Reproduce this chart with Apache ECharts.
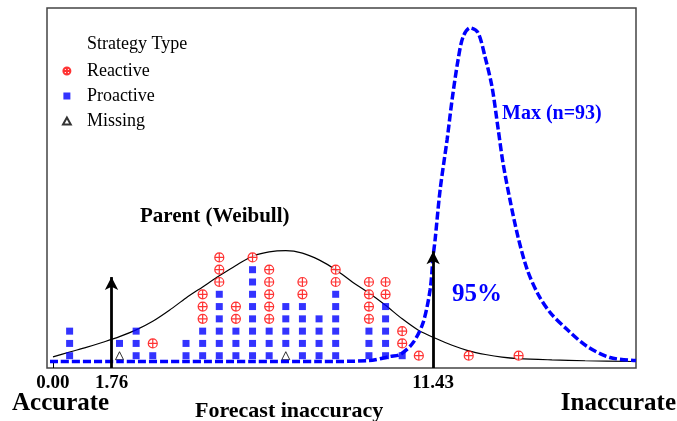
<!DOCTYPE html>
<html><head><meta charset="utf-8">
<script src="https://cdn.jsdelivr.net/npm/echarts@6/dist/echarts.min.js"></script>
<style>html,body{margin:0;padding:0;background:#fff}#c{width:677px;height:421px}</style>
</head><body><div id="c"></div>
<script>
// Dot plot bins (forecast inaccuracy) and counts per strategy type
const bins      = [0.5, 2.0, 2.5, 3.0, 4.0, 4.5, 5.0, 5.5, 6.0, 6.5, 7.0, 7.5, 8.0, 8.5, 9.5, 10.0, 10.5, 11.0, 12.5, 14.0];
const missing   = [0,   1,   0,   0,   0,   0,   0,   0,   0,   0,   1,   0,   0,   0,   0,   0,    0,    0,    0,    0];
const proactive = [3,   1,   3,   1,   2,   3,   6,   3,   8,   3,   4,   5,   4,   6,   3,   5,    1,    0,    0,    0];
const reactive  = [0,   0,   0,   1,   0,   3,   3,   2,   1,   5,   0,   2,   0,   2,   4,   2,    2,    1,    1,    1];

// Parent (Weibull) curve
const weibullX = [0, 0.5, 1, 1.5, 2, 2.5, 3, 3.5, 4, 4.5, 5, 5.5, 6, 6.5, 7, 7.5, 8, 8.5, 9, 9.5, 10, 10.5, 11, 11.5, 12, 12.5, 13, 13.5, 14, 15, 16, 17.5];
const weibullY = [0.9, 1.3, 1.68, 2.1, 2.55, 3.1, 3.8, 4.7, 5.7, 6.6, 7.5, 8.35, 9.1, 9.45, 9.55, 9.35, 8.8, 8.0, 7.0, 6.1, 5.1, 4.0, 3.05, 2.42, 1.85, 1.4, 1.1, 0.88, 0.76, 0.66, 0.59, 0.53];

// Max (n=93) curve
const maxX = [-0.09, 2, 4, 6, 8, 9.5, 10.14, 10.44, 10.83, 11.13, 11.34, 11.43, 11.49, 11.64, 11.85, 12.0, 12.18, 12.33, 12.54, 12.78, 12.99, 13.2, 13.38, 13.53, 13.74, 13.98, 14.26, 14.59, 14.95, 15.46, 16.06, 16.75, 17.53];
const maxY = [0.53, 0.53, 0.53, 0.53, 0.53, 0.6, 0.94, 1.1, 2.07, 3.7, 6.38, 9.07, 10.45, 14.5, 18.58, 21.83, 25.08, 26.95, 27.68, 27.28, 25.33, 22.89, 19.55, 16.71, 13.7, 10.69, 8.0, 5.98, 4.51, 3.13, 1.75, 0.85, 0.61];

// Arrow positions and tick labels
const arrowX = [1.76, 11.43];
const arrowTop = [7.4, 9.5];
const tickValues = [0, 1.76, 11.43];

function stackData(counts, offsets) {
  const out = [];
  bins.forEach((b, i) => {
    for (let k = 1; k <= counts[i]; k++) out.push([b, offsets[i] + k]);
  });
  return out;
}
const zero = bins.map(() => 0);
const offP = missing.slice();
const offR = bins.map((_, i) => missing[i] + proactive[i]);
const missingData = stackData(missing, zero);
const proactiveData = stackData(proactive, offP);
const reactiveData = stackData(reactive, offR);

const BLUE = '#0000ff', RED = '#ff0000';
const FONT = 'Liberation Serif';
const reactiveSym = 'path://M10,5C10,7.76,7.76,10,5,10C2.24,10,0,7.76,0,5C0,2.24,2.24,0,5,0C7.76,0,10,2.24,10,5ZM0,5L10,5M5,0L5,10';
const squareSym = 'path://M0,0L10,0L10,10L0,10Z';
const triangleSym = 'path://M5,0L10,9L0,9Z';

const chart = echarts.init(document.getElementById('c'), null, {renderer: 'canvas'});
chart.setOption({
  animation: false,
  backgroundColor: '#fff',
  grid: {left: 47, top: 8, width: 589, height: 360, show: true, borderColor: '#444', borderWidth: 1.5, backgroundColor: 'transparent'},
  xAxis: {
    type: 'value', min: -0.18, max: 17.53,
    axisLine: {show: false},
    splitLine: {show: false},
    axisTick: {show: true, inside: true, length: 5, customValues: tickValues, lineStyle: {color: '#000', width: 1}},
    axisLabel: {customValues: tickValues, formatter: v => Number(v).toFixed(2), fontFamily: FONT, fontWeight: 'bold', fontSize: 19, color: '#000', margin: 6}
  },
  yAxis: {type: 'value', min: 0, max: 29.3, show: false, splitLine: {show: false}},
  legend: {
    orient: 'vertical', left: 57, top: 57, itemWidth: 30, itemHeight: 7, itemGap: 7,
    symbolKeepAspect: true,
    data: ['Reactive', 'Proactive', 'Missing'],
    textStyle: {fontFamily: FONT, fontSize: 18, color: '#000', lineHeight: 18},
    selectedMode: false
  },
  graphic: [
    {type: 'text', left: 87, top: 35, style: {text: 'Strategy Type', font: '18px "Liberation Serif"', fill: '#000'}},
    {type: 'text', left: 140, top: 206, style: {text: 'Parent (Weibull)', font: 'bold 21px "Liberation Serif"', fill: '#000'}},
    {type: 'text', left: 502, top: 104, style: {text: 'Max (n=93)', font: 'bold 20px "Liberation Serif"', fill: BLUE}},
    {type: 'text', left: 452, top: 282, style: {text: '95%', font: 'bold 25px "Liberation Serif"', fill: BLUE}},
    {type: 'text', left: 12, top: 391, style: {text: 'Accurate', font: 'bold 25px "Liberation Serif"', fill: '#000'}},
    {type: 'text', right: 1, top: 391, style: {text: 'Inaccurate', font: 'bold 25px "Liberation Serif"', fill: '#000'}},
    {type: 'text', left: 195, top: 400, style: {text: 'Forecast inaccuracy', font: 'bold 22px "Liberation Serif"', fill: '#000'}}
  ],
  series: [
    {
      name: 'Parent', type: 'line', data: weibullX.map((x, i) => [x, weibullY[i]]),
      smooth: 0.3, symbol: 'none', z: 1,
      lineStyle: {color: '#000', width: 1.2},
      markLine: {
        silent: true, symbol: ['none', 'arrow'], symbolSize: [10, 13],
        label: {show: false},
        lineStyle: {color: '#000', width: 2.8, type: 'solid'},
        data: arrowX.map((x, i) => [{coord: [x, 0]}, {coord: [x, arrowTop[i]]}])
      }
    },
    {
      name: 'Max', type: 'line', data: maxX.map((x, i) => [x, maxY[i]]),
      smooth: 0.3, symbol: 'none', z: 3,
      lineStyle: {color: BLUE, width: 3.5, type: [8, 3]}
    },
    {
      name: 'Missing', type: 'scatter', data: missingData, symbol: triangleSym, symbolSize: 8, z: 2,
      itemStyle: {color: '#fff', borderColor: '#000', borderWidth: 1}
    },
    {
      name: 'Proactive', type: 'scatter', data: proactiveData, symbol: squareSym, symbolSize: 7, z: 2,
      itemStyle: {color: BLUE}
    },
    {
      name: 'Reactive', type: 'scatter', data: reactiveData, symbol: reactiveSym, symbolSize: 9, z: 2,
      itemStyle: {color: '#fff', borderColor: RED, borderWidth: 1.2}
    }
  ]
});
</script></body></html>
